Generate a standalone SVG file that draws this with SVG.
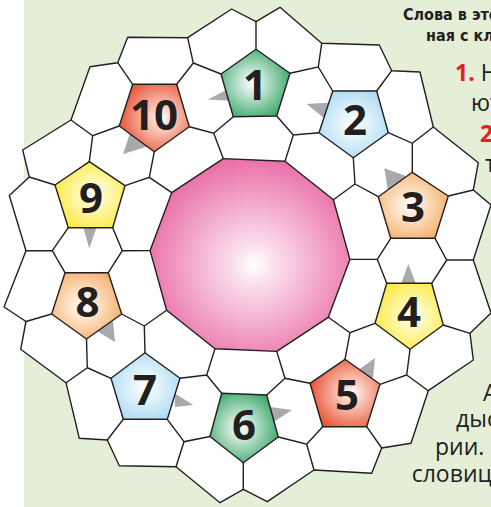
<svg xmlns="http://www.w3.org/2000/svg" width="491" height="507" viewBox="0 0 491 507">
<defs>
<radialGradient id="gGreen" cx="0.45" cy="0.5" r="0.6"><stop offset="0" stop-color="#ffffff"/><stop offset="0.25" stop-color="#cfeadb"/><stop offset="1" stop-color="#35a466"/></radialGradient>
<radialGradient id="gBlue" cx="0.5" cy="0.5" r="0.6"><stop offset="0" stop-color="#ffffff"/><stop offset="0.3" stop-color="#e6f5fc"/><stop offset="1" stop-color="#a8d9f2"/></radialGradient>
<radialGradient id="gOrange" cx="0.45" cy="0.5" r="0.6"><stop offset="0" stop-color="#ffffff"/><stop offset="0.3" stop-color="#fde6cf"/><stop offset="1" stop-color="#f4ae68"/></radialGradient>
<radialGradient id="gYellow" cx="0.55" cy="0.5" r="0.6"><stop offset="0" stop-color="#ffffff"/><stop offset="0.3" stop-color="#fffac0"/><stop offset="1" stop-color="#fde83a"/></radialGradient>
<radialGradient id="gRed" cx="0.6" cy="0.5" r="0.6"><stop offset="0" stop-color="#ffffff"/><stop offset="0.25" stop-color="#fbd0c2"/><stop offset="1" stop-color="#e8573a"/></radialGradient>
<radialGradient id="gPink" cx="0.52" cy="0.55" r="0.55"><stop offset="0" stop-color="#ffffff"/><stop offset="0.2" stop-color="#fbdeec"/><stop offset="1" stop-color="#ea70a8"/></radialGradient>
</defs>
<style>
.cell{fill:#ffffff;stroke:#231f20;stroke-width:1.4;stroke-linejoin:round}
.edge{fill:none;stroke:#231f20;stroke-width:1.4;stroke-linecap:round}
.pent{stroke:#231f20;stroke-width:1.4;stroke-linejoin:round}
.tri{fill:#a7a9ac}
.num{font-family:"Open Sans","Liberation Sans",sans-serif;font-weight:700;font-size:42px;fill:#231f20;text-anchor:middle}
.txt{font-family:"Open Sans","Liberation Sans",sans-serif;font-size:23px;fill:#231f20}
.red{fill:#e2231a;font-weight:700}
.head{font-family:"DejaVu Sans Condensed","DejaVu Sans",sans-serif;font-weight:700;font-size:16px;fill:#231f20}
</style>
<rect x="0" y="0" width="491" height="507" fill="#ffffff"/>
<rect x="24" y="0" width="467" height="507" fill="#e5efd8"/>
<g id="grid">
<polygon class="cell" points="22.7,150 71,120 90,66.7 117.7,62.7 127.7,37.3 187.7,37.7 231.7,9 256,21.7 280,7.3 321.7,43.3 379.3,45 391.7,70.7 420,72 433.3,127 478.3,162.7 473.3,190 491,205 473.3,260 491,313 470,333.3 473.3,360 428.3,390.7 411,443.3 381.7,448 371.7,473.3 314,470 267.3,501.7 243.3,489.3 220,502.7 176,466.7 119.3,465.7 107.3,440 79.3,438.3 66,382.7 20.7,349.3 26,321.5 4,307 26,250.7 9.3,195.5 29.3,177"/>
<path class="edge" d="M187.7,37.7L193.3,63L176.7,84.3M193.3,63L221,74M117.7,62.7L132.7,84.3M256,21.7L256,49.3M321.7,43.3L318.3,67L290,73.3M318.3,67L332.7,91M376.7,91L391.7,70.7M388.3,132.7L412.3,143.3L433.3,127M412.3,143.3L412.3,172.3M319,132.7L293.3,135L276.7,116M293.3,135L285,161.3M353.3,157.7L355,184L333.4,199.8M355,184L378.3,196.7M448.3,196L473.3,190M435,238.3L446.7,260L473.3,260M446.7,260L431.7,283.3M390.7,238.3L377.3,259.3L349.9,259.4M377.3,259.3L386.7,283.3M443.3,325L470,333.3M375,323.3L350,332.7L328.3,317.3M350,332.7L345,359.3M410,349.3L406.7,375L380,384.3M406.7,375L428.3,390.7M366.7,426.7L381.7,448M310,383.3L285,378.3L276.7,351.4M285,378.3L266.7,395M322.7,426.7L306.7,444.3L278.3,437M306.7,444.3L314,470M243.3,462.7L243.3,489.3M210,436.5L184,441.7L176,466.7M184,441.7L167.3,419.3M221.7,393.3L206.7,375L215,348.7M206.7,375L180,378.3M123.3,419.3L107.3,440M145,352.7L144.3,326L166.6,310.2M144.3,326L121.7,314M111,378.3L87.3,367.7L86.5,339M87.3,367.7L66,382.7M51.7,314L26,321.5M65,272.7L52.3,250.7L26,250.7M52.3,250.7L68.3,227.7M108.3,272.7L122.3,250.7L112.7,227.7M122.3,250.7L150.1,250.6M55,185L29.3,177M125,185.7L149.3,177.3L171.7,192.7M149.3,177.3L154.3,151.7M119.3,126L92.7,135.7L71,120M92.7,135.7L89.3,161.7M189.3,126.7L213.7,133.3L233.3,116.7M213.7,133.3L223.3,158.6"/>
</g>
<g id="pointers">
<polygon class="tri" points="208,99.5 232,87 234,101"/>
<polygon class="tri" points="306.7,104 331,102.5 324,118"/>
<polygon class="tri" points="384.3,168.3 388,191 406,176"/>
<polygon class="tri" points="408.3,264 401,284 416,284"/>
<polygon class="tri" points="375,358 357,371 373,378"/>
<polygon class="tri" points="292,410 270,407 272,423"/>
<polygon class="tri" points="193.3,405 175,393.5 175,407"/>
<polygon class="tri" points="115,342 97,331 113,321"/>
<polygon class="tri" points="83,226 97,226 89.3,248.5"/>
<polygon class="tri" points="123,154 131,130 149,146"/>
</g>
<g id="centre"><polygon class="pent" fill="url(#gPink)" points="349.9,259.4 328.3,317.3 276.7,351.4 215,348.7 166.6,310.2 150.1,250.6 171.7,192.7 223.3,158.6 285,161.3 333.4,199.8"/></g>
<g id="p1"><polygon class="pent" fill="url(#gGreen)" points="256,49.3 290,73.3 276.7,116 233.3,116.7 221,74"/><text class="num" x="255" y="100">1</text></g>
<g id="p2"><polygon class="pent" fill="url(#gBlue)" points="332.7,91 376.7,91 388.3,132.7 353.3,157.7 319,132.7"/><text class="num" x="355" y="135">2</text></g>
<g id="p3"><polygon class="pent" fill="url(#gOrange)" points="412.3,172.3 448.3,196 435,238.3 390.7,238.3 378.3,196.7"/><text class="num" x="413" y="222">3</text></g>
<g id="p4"><polygon class="pent" fill="url(#gYellow)" points="386.7,283.3 431.7,283.3 443.3,325 410,349.3 375,323.3"/><text class="num" x="409" y="327">4</text></g>
<g id="p5"><polygon class="pent" fill="url(#gRed)" points="345,359.3 380,384.3 366.7,426.7 322.7,426.7 310,383.3"/><text class="num" x="347" y="410">5</text></g>
<g id="p6"><polygon class="pent" fill="url(#gGreen)" points="221.7,393.3 266.7,395 278.3,437 243.3,462.7 210,436.5"/><text class="num" x="244" y="440">6</text></g>
<g id="p7"><polygon class="pent" fill="url(#gBlue)" points="145,352.7 180,378.3 167.3,419.3 123.3,419.3 111,378.3"/><text class="num" x="145" y="405">7</text></g>
<g id="p8"><polygon class="pent" fill="url(#gOrange)" points="65,272.7 108.3,272.7 121.7,314 86.5,339 51.7,314"/><text class="num" x="87.5" y="317">8</text></g>
<g id="p9"><polygon class="pent" fill="url(#gYellow)" points="89.3,161.7 125,185.7 112.7,227.7 68.3,227.7 55,185"/><text class="num" x="91" y="213">9</text></g>
<g id="p10"><polygon class="pent" fill="url(#gRed)" points="132.7,84.3 176.7,84.3 189.3,126.7 154.3,151.7 119.3,126"/><text class="num" x="154" y="130">10</text></g>
<g id="text">
<text class="head" x="403" y="20">Слова в этой</text>
<text class="head" x="426" y="41">ная с ключом</text>
<text class="txt" x="455" y="81"><tspan class="red">1.</tspan> Н</text>
<text class="txt" x="471" y="111">ют</text>
<text class="txt red" x="480" y="142">2.</text>
<text class="txt" x="485" y="172">т</text>
<text class="txt" x="483" y="401">А</text>
<text class="txt" x="456" y="427">дыс</text>
<text class="txt" x="435" y="455">рии.</text>
<text class="txt" x="411.7" y="482">словиц</text>
</g>
</svg>
